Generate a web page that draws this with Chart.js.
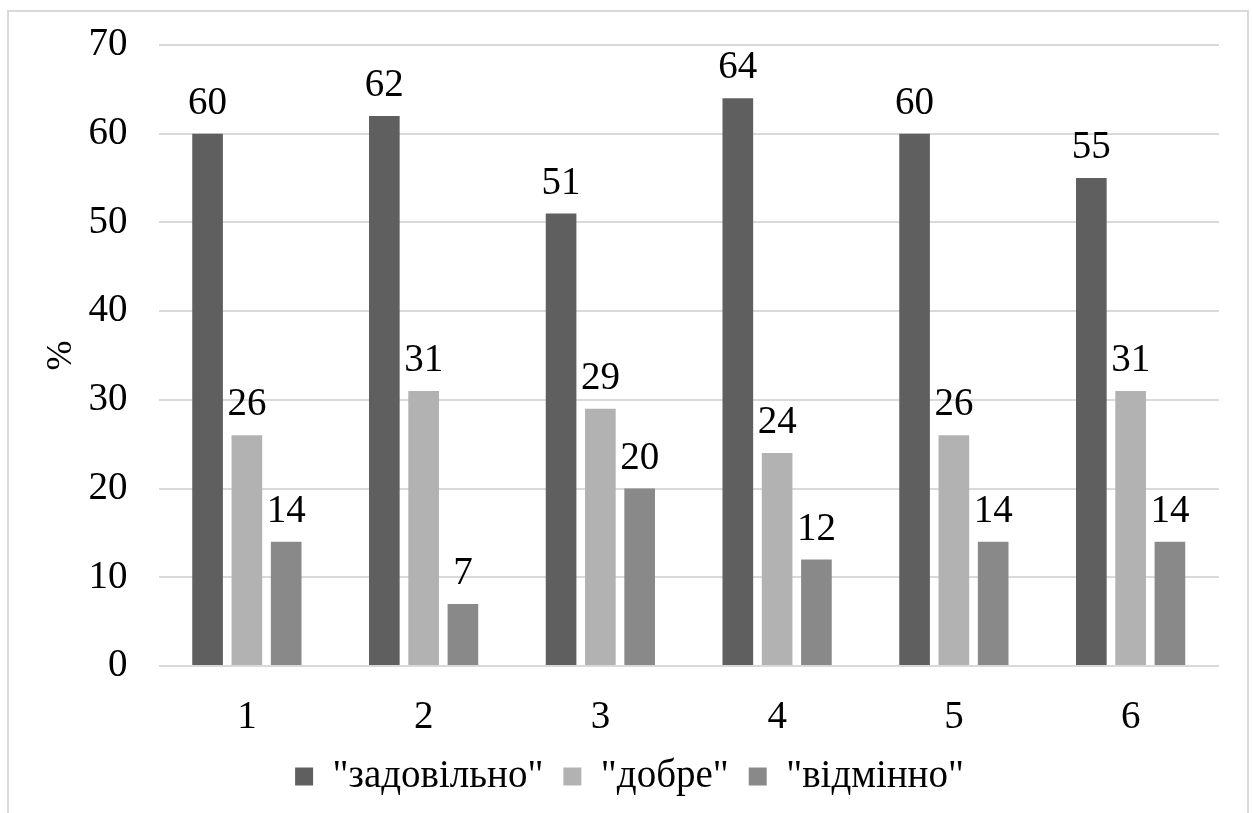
<!DOCTYPE html>
<html>
<head>
<meta charset="utf-8">
<script src="https://cdn.jsdelivr.net/npm/chart.js@4/dist/chart.umd.min.js"></script>
<style>
  html, body { margin: 0; padding: 0; background: #ffffff; }
  #wrap { position: relative; width: 1253px; height: 813px; }
</style>
</head>
<body>
<div id="wrap"><canvas id="c" width="1253" height="813"></canvas></div>
<script>
// Categories and series values (%)
const categories = ['1', '2', '3', '4', '5', '6'];
const satisfactory = [60, 62, 51, 64, 60, 55];
const good = [26, 31, 29, 24, 26, 31];
const excellent = [14, 7, 20, 12, 14, 14];
const seriesNames = ['"задовільно"', '"добре"', '"відмінно"'];
const yTicks = [0, 10, 20, 30, 40, 50, 60, 70];

const FONT = '"Liberation Serif", "Times New Roman", serif';
const FS = 39;

// Outer frame and white background
const framePlugin = {
  id: 'frame',
  beforeDraw(chart) {
    const ctx = chart.ctx;
    ctx.save();
    ctx.fillStyle = '#ffffff';
    ctx.fillRect(0, 0, chart.width, chart.height);
    ctx.strokeStyle = '#d9d9d9';
    ctx.lineWidth = 2;
    ctx.strokeRect(8, 11, 1240, 830);
    ctx.restore();
  }
};

// Fixed legend band height
const legendBand = {
  id: 'legendBand',
  beforeLayout(chart) {
    const lg = chart.legend;
    if (lg && !lg._bandPatched) {
      const fit = lg.fit.bind(lg);
      lg.fit = function () { fit(); this.height = 76; };
      lg._bandPatched = true;
    }
  }
};

// Value labels above each bar
const valueLabels = {
  id: 'valueLabels',
  afterDatasetsDraw(chart) {
    const ctx = chart.ctx;
    ctx.save();
    ctx.font = FS + 'px ' + FONT;
    ctx.fillStyle = '#000000';
    ctx.textAlign = 'center';
    ctx.textBaseline = 'alphabetic';
    chart.data.datasets.forEach((ds, i) => {
      const meta = chart.getDatasetMeta(i);
      meta.data.forEach((bar, j) => {
        ctx.fillText(String(ds.data[j]), bar.x, bar.y - 20);
      });
    });
    ctx.restore();
  }
};

function build() {
  new Chart(document.getElementById('c'), {
    type: 'bar',
    data: {
      labels: categories,
      datasets: [
        { label: seriesNames[0], data: satisfactory, backgroundColor: '#5f5f5f' },
        { label: seriesNames[1], data: good, backgroundColor: '#b2b2b2' },
        { label: seriesNames[2], data: excellent, backgroundColor: '#898989' }
      ]
    },
    options: {
      responsive: false,
      animation: false,
      devicePixelRatio: 1,
      categoryPercentage: 0.667,
      barPercentage: 0.78,
      layout: { padding: { top: 45, right: 34, left: 40, bottom: 0 } },
      plugins: {
        legend: {
          position: 'bottom',
          labels: {
            font: { family: FONT, size: FS },
            color: '#000000',
            boxWidth: 18,
            boxHeight: 18,
            padding: 20
          }
        },
        tooltip: { enabled: false }
      },
      scales: {
        x: {
          grid: { display: false },
          border: { display: false },
          ticks: { font: { family: FONT, size: FS }, color: '#000000', padding: 20 },
          afterFit(s) { s.height = 71; }
        },
        y: {
          min: 0,
          max: 70,
          afterBuildTicks(s) { s.ticks = yTicks.map(v => ({ value: v })); },
          grid: { color: '#d9d9d9', lineWidth: 2, drawTicks: false },
          border: { display: false },
          ticks: { font: { family: FONT, size: FS }, color: '#000000', padding: 31 },
          title: { display: true, text: '%', font: { family: FONT, size: 36 }, color: '#000000', padding: 0 },
          afterFit(s) { s.width = 118.5; s.paddingTop = 0; s.paddingBottom = 0; }
        }
      }
    },
    plugins: [framePlugin, legendBand, valueLabels]
  });
}

if (document.fonts && document.fonts.load) {
  document.fonts.load(FS + 'px "Liberation Serif"').then(build, build);
} else {
  build();
}
</script>
</body>
</html>
